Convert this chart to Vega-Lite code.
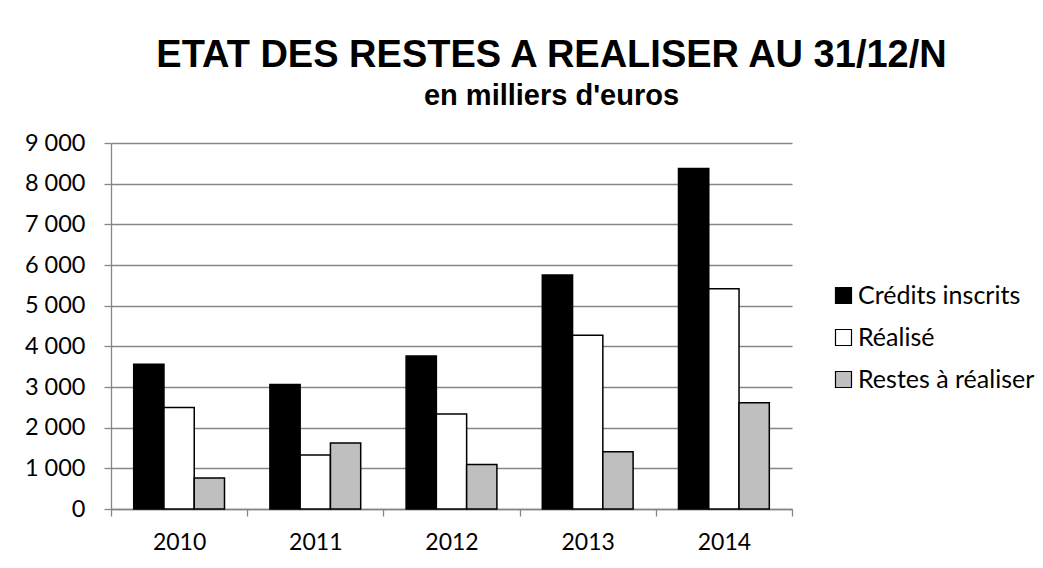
{
  "$schema": "https://vega.github.io/schema/vega-lite/v6.json",
  "width": 681,
  "height": 366,
  "autosize": {"type": "none"},
  "padding": {"left": 111, "top": 143, "right": 251, "bottom": 59},
  "background": "white",
  "title": {
    "text": "ETAT DES RESTES A  REALISER AU 31/12/N",
    "subtitle": "en milliers d'euros",
    "anchor": "middle",
    "frame": "group",
    "dx": 100,
    "offset": 20,
    "font": "Liberation Sans",
    "fontSize": 38,
    "fontWeight": "bold",
    "color": "black",
    "subtitleFont": "Liberation Sans",
    "subtitleFontSize": 29,
    "subtitleFontWeight": "bold",
    "subtitleColor": "black",
    "subtitlePadding": 7
  },
  "data": {
    "values": [
      {"annee": "2010", "serie": "Crédits inscrits", "valeur": 3560},
      {"annee": "2010", "serie": "Réalisé", "valeur": 2495},
      {"annee": "2010", "serie": "Restes à réaliser", "valeur": 765},
      {"annee": "2011", "serie": "Crédits inscrits", "valeur": 3060},
      {"annee": "2011", "serie": "Réalisé", "valeur": 1330},
      {"annee": "2011", "serie": "Restes à réaliser", "valeur": 1620},
      {"annee": "2012", "serie": "Crédits inscrits", "valeur": 3765},
      {"annee": "2012", "serie": "Réalisé", "valeur": 2335},
      {"annee": "2012", "serie": "Restes à réaliser", "valeur": 1095},
      {"annee": "2013", "serie": "Crédits inscrits", "valeur": 5755},
      {"annee": "2013", "serie": "Réalisé", "valeur": 4270},
      {"annee": "2013", "serie": "Restes à réaliser", "valeur": 1405},
      {"annee": "2014", "serie": "Crédits inscrits", "valeur": 8370},
      {"annee": "2014", "serie": "Réalisé", "valeur": 5415},
      {"annee": "2014", "serie": "Restes à réaliser", "valeur": 2610}
    ]
  },
  "mark": {"type": "bar", "stroke": "black", "strokeWidth": 1.5},
  "encoding": {
    "x": {
      "field": "annee",
      "type": "nominal",
      "scale": {"paddingInner": 0, "paddingOuter": 0},
      "axis": {
        "title": null,
        "labelAngle": 0,
        "labelFont": "Lato",
        "labelFontSize": 23,
        "labelColor": "black",
        "labelPadding": 15,
        "tickBand": "extent",
        "tickSize": 7,
        "tickColor": "#868686",
        "tickWidth": 1.3,
        "domainColor": "#868686",
        "domainWidth": 1.3,
        "grid": false
      }
    },
    "xOffset": {
      "field": "serie",
      "type": "nominal",
      "sort": ["Crédits inscrits", "Réalisé", "Restes à réaliser"],
      "scale": {"paddingInner": 0, "paddingOuter": 0.75}
    },
    "y": {
      "field": "valeur",
      "type": "quantitative",
      "scale": {"domain": [0, 9000], "nice": false},
      "axis": {
        "title": null,
        "values": [0, 1000, 2000, 3000, 4000, 5000, 6000, 7000, 8000, 9000],
        "labelExpr": "replace(format(datum.value, ','), ',', ' ')",
        "labelFont": "Lato",
        "labelFontSize": 23.5,
        "labelColor": "black",
        "labelPadding": 19,
        "tickSize": 7,
        "tickColor": "#868686",
        "tickWidth": 1.3,
        "domainColor": "#868686",
        "domainWidth": 1.3,
        "grid": true,
        "gridColor": "#868686",
        "gridWidth": 1.3
      }
    },
    "fill": {
      "field": "serie",
      "type": "nominal",
      "sort": ["Crédits inscrits", "Réalisé", "Restes à réaliser"],
      "scale": {
        "domain": ["Crédits inscrits", "Réalisé", "Restes à réaliser"],
        "range": ["#000000", "#FFFFFF", "#BFBFBF"]
      },
      "legend": {
        "title": null,
        "orient": "none",
        "legendX": 720,
        "legendY": 140,
        "padding": 0,
        "symbolType": "square",
        "symbolSize": 256,
        "symbolStrokeColor": "black",
        "symbolStrokeWidth": 1.2,
        "labelFont": "Lato",
        "labelFontSize": 25,
        "labelLimit": 400,
        "labelColor": "black",
        "labelOffset": 2,
        "rowPadding": 16
      }
    }
  },
  "config": {
    "view": {"stroke": null}
  }
}
